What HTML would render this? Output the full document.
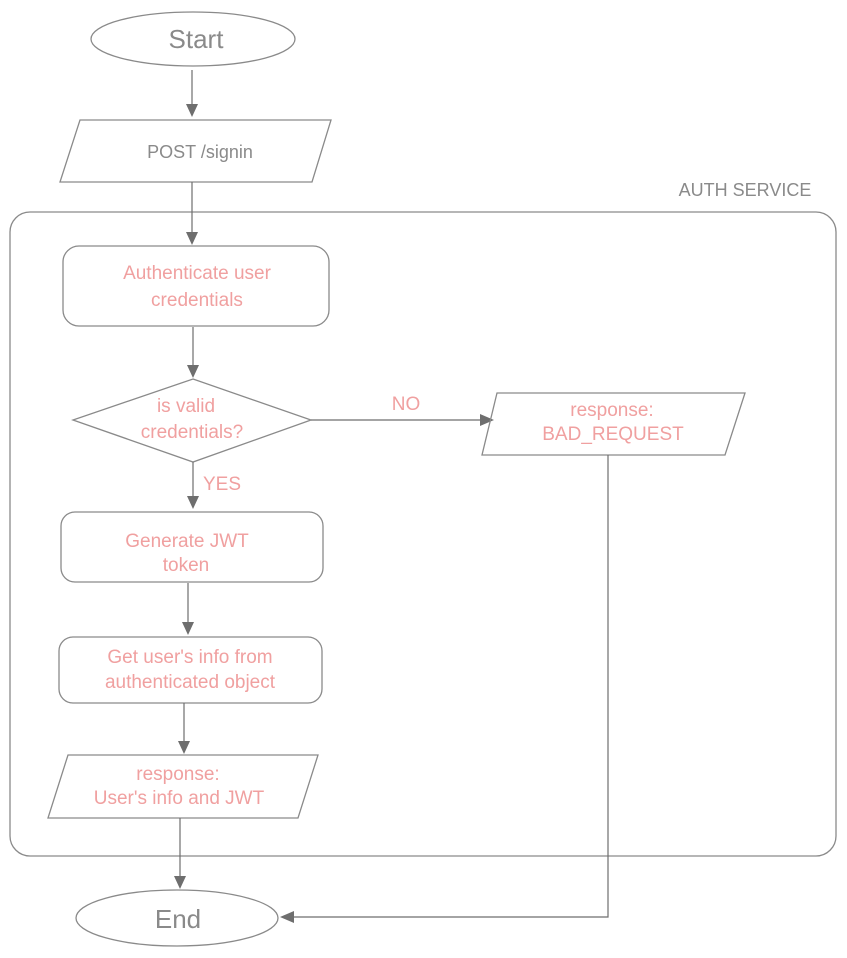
<!DOCTYPE html>
<html><head><meta charset="utf-8"><style>
html,body{margin:0;padding:0;background:#fff;}
svg{display:block}
text{font-family:"Liberation Sans",sans-serif;text-anchor:middle;}
.p{fill:#f0a0a0;font-size:19px}
.g{fill:#8a8a8a}
.s{fill:none;stroke:#8a8a8a;stroke-width:1.3}
.l{stroke:#6e6e6e;stroke-width:1.2;fill:none}
.a{fill:#6e6e6e}
</style></head><body>
<svg width="847" height="958" viewBox="0 0 847 958">
<ellipse class="s" cx="193" cy="39" rx="102" ry="27"/>
<text class="g" x="196" y="48" font-size="26">Start</text>
<line class="l" x1="192" y1="70" x2="192" y2="105"/><polygon class="a" points="186,104 198,104 192,117"/>
<polygon class="s" points="80,120 331,120 312,182 60,182"/>
<text class="g" x="200" y="158" font-size="18">POST /signin</text>
<text class="g" x="745" y="196" font-size="18">AUTH SERVICE</text>
<rect class="s" x="10" y="212" width="826" height="644" rx="20"/>
<line class="l" x1="192" y1="182" x2="192" y2="233"/><polygon class="a" points="186,232 198,232 192,245"/>
<rect class="s" x="63" y="246" width="266" height="80" rx="16"/>
<text class="p" x="197" y="279">Authenticate user</text>
<text class="p" x="197" y="306">credentials</text>
<line class="l" x1="193" y1="327" x2="193" y2="366"/><polygon class="a" points="187,365 199,365 193,378"/>
<polygon class="s" points="193,379 311,420 193,462 73,420"/>
<text class="p" x="186" y="412">is valid</text>
<text class="p" x="192" y="438">credentials?</text>
<line class="l" x1="311" y1="420" x2="482" y2="420"/><polygon class="a" points="480,414 480,426 494,420"/>
<text class="p" x="406" y="410" font-size="16">NO</text>
<polygon class="s" points="497,393 745,393 725,455 482,455"/>
<text class="p" x="612" y="416">response:</text>
<text class="p" x="613" y="440">BAD_REQUEST</text>
<line class="l" x1="193" y1="462" x2="193" y2="497"/><polygon class="a" points="187,496 199,496 193,509"/>
<text class="p" x="222" y="490" font-size="16">YES</text>
<rect class="s" x="61" y="512" width="262" height="70" rx="14"/>
<text class="p" x="187" y="547">Generate JWT</text>
<text class="p" x="186" y="571">token</text>
<line class="l" x1="188" y1="583" x2="188" y2="623"/><polygon class="a" points="182,622 194,622 188,635"/>
<rect class="s" x="59" y="637" width="263" height="66" rx="14"/>
<text class="p" x="190" y="663">Get user's info from</text>
<text class="p" x="190" y="688">authenticated object</text>
<line class="l" x1="184" y1="703" x2="184" y2="742"/><polygon class="a" points="178,741 190,741 184,754"/>
<polygon class="s" points="68,755 318,755 298,818 48,818"/>
<text class="p" x="178" y="780">response:</text>
<text class="p" x="179" y="804">User's info and JWT</text>
<line class="l" x1="180" y1="818" x2="180" y2="877"/><polygon class="a" points="174,876 186,876 180,889"/>
<ellipse class="s" cx="177" cy="918" rx="101" ry="28"/>
<text class="g" x="178" y="928" font-size="26">End</text>
<polyline class="l" points="608,455 608,917 292,917"/><polygon class="a" points="294,911 294,923 280,917"/>
</svg>
</body></html>
